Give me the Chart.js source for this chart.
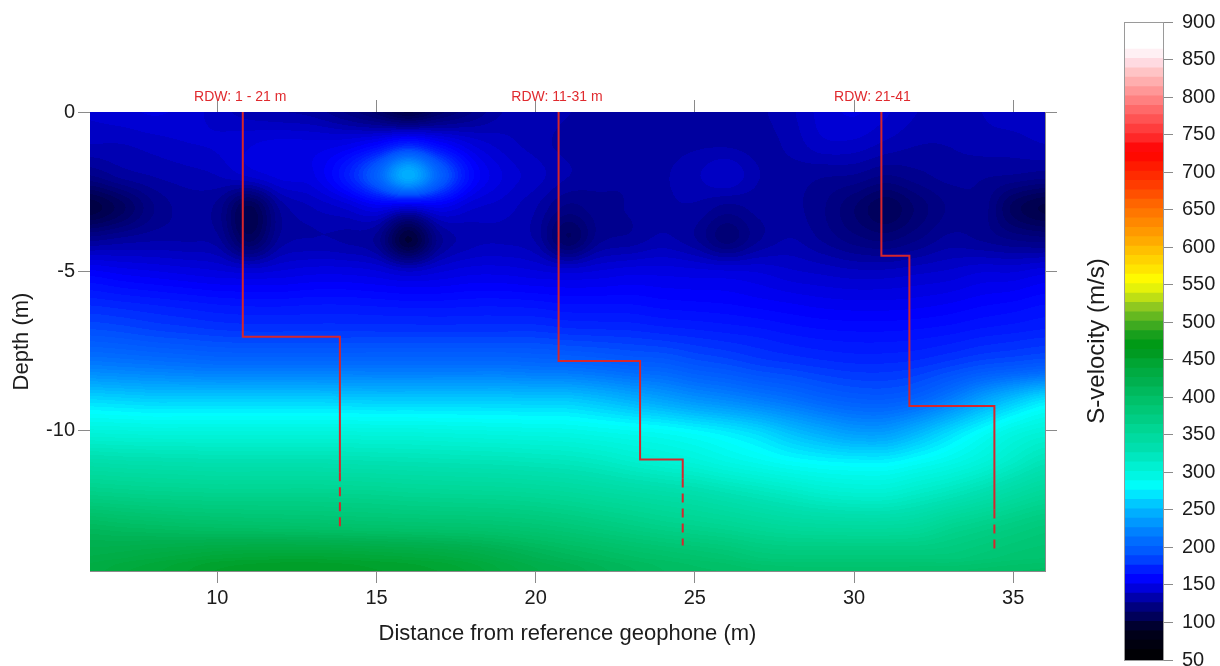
<!DOCTYPE html>
<html><head><meta charset="utf-8">
<script src="https://cdn.jsdelivr.net/npm/chart.js@4.4.1/dist/chart.umd.min.js"></script>
<style>
html,body{margin:0;padding:0;background:#fff;}
#wrap{position:relative;width:1220px;height:666px;overflow:hidden;background:#fff;}
#main{position:absolute;left:0;top:0;}
#cbar{position:absolute;left:1075px;top:0;}
</style></head><body>
<div id="wrap"><canvas id="main" width="1075" height="666"></canvas><canvas id="cbar" width="145" height="690"></canvas></div>
<script>
// ---------------- DATA ----------------
const distanceColumns = [6,7,8,9,10,11,12,13,14,15,16,17,18,19,20,21,22,23,24,25,26,27,28,29,30,31,32,33,34,35,36];
const depthRows = [0,-1,-2,-3,-4,-5,-6,-7,-8,-9,-10,-11,-12,-13,-14,-14.4];
// S-velocity (m/s), one row per depth, one value per distance column
const sVelocity = [
 [140,142,144,142,137,133,131,129,122,112,100,112,122,131,133,131,129,129,129,130,130,130,134,141,144,140,135,133,135,137,137],
 [135,135,137,139,140,143,145,145,147,155,168,155,143,137,133,129,128,128,129,130,130,129,132,138,138,134,131,131,133,133,135],
 [122,128,131,133,135,140,145,147,165,198,245,198,158,143,137,131,128,127,130,134,139,131,129,127,126,122,125,128,127,126,124],
 [ 98,108,122,128,125,104,128,135,140,148,142,148,140,137,131,121,125,127,130,130,125,128,128,123,114,106,115,123,125,108,100],
 [125,128,130,130,128,108,128,131,130,125, 96,125,133,134,130,110,125,128,132,127,116,126,131,126,120,117,122,128,126,122,120],
 [153,150,148,146,144,142,144,146,146,144,139,143,146,146,144,142,144,146,146,145,144,143,140,138,136,136,138,140,143,143,146],
 [172,170,168,166,164,163,163,164,164,163,162,162,163,163,162,160,160,160,158,157,156,154,152,150,149,149,150,152,155,157,160],
 [190,188,185,183,181,180,180,180,180,180,180,180,180,180,180,178,177,176,174,172,170,168,165,163,162,162,163,165,168,170,172],
 [218,216,214,212,210,210,210,210,210,210,210,210,210,210,208,207,204,200,198,192,188,183,180,177,175,175,177,182,188,192,196],
 [262,260,258,258,258,258,258,258,257,256,256,256,256,256,255,255,250,243,236,228,222,215,208,200,195,194,200,215,235,252,266],
 [298,297,296,296,296,296,296,296,296,295,295,294,293,292,291,290,287,284,281,276,270,262,250,240,232,232,245,262,278,292,300],
 [335,333,332,331,330,330,330,330,329,328,327,326,325,324,322,320,316,310,305,300,293,287,281,277,275,275,282,290,300,313,325],
 [368,366,364,363,362,362,362,362,361,360,358,357,356,355,353,350,346,342,338,334,328,322,316,310,307,307,314,322,332,343,352],
 [405,402,400,398,397,396,395,394,393,392,391,390,389,387,384,380,375,370,365,361,357,352,348,346,345,345,348,358,365,372,378],
 [425,428,432,436,440,442,443,443,442,440,438,435,430,423,416,410,405,400,396,392,388,382,380,380,380,380,380,380,384,388,390],
 [430,436,440,445,450,452,453,453,452,450,448,445,440,432,425,420,413,408,403,400,398,395,393,392,392,392,393,394,396,398,400]
];
// Red RDW velocity-profile traces (distance, elevation)
const profile1Solid  = [[10.8,0],[10.8,-7.05],[13.85,-7.05],[13.85,-11.3]];
const profile1Dashed = [[13.85,-11.3],[13.85,-13.02]];
const profile2Solid  = [[20.72,0],[20.72,-7.81],[23.28,-7.81],[23.28,-10.9],[24.62,-10.9],[24.62,-11.5]];
const profile2Dashed = [[24.62,-11.5],[24.62,-13.6]];
const profile3Solid  = [[30.86,0],[30.86,-4.51],[31.74,-4.51],[31.74,-9.22],[34.41,-9.22],[34.41,-12.47]];
const profile3Dashed = [[34.41,-12.47],[34.41,-13.8]];
const profileLabels  = ['RDW: 1 - 21 m','RDW: 11-31 m','RDW: 21-41'];
const profileLabelX  = [10.72, 20.67, 30.58];
// Axis ticks
const xTickValues  = [10,15,20,25,30,35];
const yTickValues  = [0,-5,-10];
const cbTickValues = [50,100,150,200,250,300,350,400,450,500,550,600,650,700,750,800,850,900];
// Colour scale stops (m/s) and colours
const colorStopValues = [50,90,100,125,140,155,170,187,209,227,245,263,278,290,307,329,352,373,396,418,440,458,476,483,500,519,536,553,572,589,607,625,643,660,678,696,713,727,740,758,776,794,811,829,847,856,865,900];
const colorStopHex = ['#000000','#000020','#000048','#000090','#0000d0','#0000ff','#0020ff','#0050ff','#0070ff','#0090ff','#00b0ff','#00d8ff','#00ffff','#00f8e8','#00f0d0','#00e0b0','#00d898','#00cc80','#00c068','#00b050','#00a838','#009a20','#009a10','#20a020','#50b020','#90c820','#d0e810','#ffff00','#ffe000','#ffc800','#ffaa00','#ff9000','#ff7800','#ff6000','#ff4000','#ff2800','#ff1000','#ff0000','#ff2020','#ff4040','#ff6060','#ff8080','#ffa0a0','#ffc0c0','#ffe0e8','#fff0f4','#ffffff','#ffffff'];
const vMin = 50, vMax = 900, barBandStep = 12.5, mapBandStep = 4.25;

// ---------------- helpers ----------------
function hexRgb(h){return [parseInt(h.substr(1,2),16),parseInt(h.substr(3,2),16),parseInt(h.substr(5,2),16)];}
const stopRgb = colorStopHex.map(hexRgb);
function cmap(v){
  if (v<=colorStopValues[0]) return stopRgb[0];
  for (let i=0;i<colorStopValues.length-1;i++){
    const a=colorStopValues[i], b=colorStopValues[i+1];
    if (v<=b){const t=(v-a)/(b-a);const c0=stopRgb[i],c1=stopRgb[i+1];
      return [0,1,2].map(k=>Math.round(c0[k]+(c1[k]-c0[k])*t));}
  }
  return stopRgb[stopRgb.length-1];
}
function makeBands(step){const n=Math.round((vMax-vMin)/step),arr=[];for(let k=0;k<n;k++)arr.push(cmap(vMin+step*(k+0.5)));return arr;}
const mapBands = makeBands(mapBandStep);
const barBands = makeBands(barBandStep);
function bandOf(v){let k=Math.floor((v-vMin)/mapBandStep);return Math.max(0,Math.min(mapBands.length-1,k));}
function findSeg(arr,v){
  const n=arr.length, inc=arr[n-1]>arr[0];
  for (let i=0;i<n-1;i++){const a=arr[i],b=arr[i+1];
    if ((inc&&v<=b)||(!inc&&v>=b)){return [i,Math.max(0,Math.min(1,(v-a)/(b-a)))];}}
  return [n-2,1];
}
// Catmull-Rom weights for the 4 neighbouring nodes
function crW(t){const t2=t*t,t3=t2*t;return [(-t3+2*t2-t)/2,(3*t3-5*t2+2)/2,(-3*t3+4*t2+t)/2,(t3-t2)/2];}
function clampI(i,n){return i<0?0:(i>n-1?n-1:i);}

const FONT = '"Liberation Sans", Arial, sans-serif';
const TXT = '#1c1c1c';
const AXC = '#8a8a8a';
const RED = '#d6262c';

// ---------------- heatmap plugin (uses chart scales) ----------------
const heatmapPlugin = {
  id:'heatmap',
  beforeDatasetsDraw(chart){
    const {ctx, chartArea:a, scales:{x,y}} = chart;
    const L=Math.round(a.left), T=Math.round(a.top);
    const w=Math.round(a.right)-L, h=Math.round(a.bottom)-T;
    const off=document.createElement('canvas'); off.width=w; off.height=h;
    const octx=off.getContext('2d'); const img=octx.createImageData(w,h); const d=img.data;
    const nC=distanceColumns.length, nR=depthRows.length;
    const rowVals=[];
    for(let r=0;r<nR;r++) rowVals.push(new Float32Array(w));
    for(let i=0;i<w;i++){
      const s=findSeg(distanceColumns,x.getValueForPixel(L+i+0.5)), wt=crW(s[1]);
      const idx=[clampI(s[0]-1,nC),s[0],clampI(s[0]+1,nC),clampI(s[0]+2,nC)];
      for(let r=0;r<nR;r++){const row=sVelocity[r];rowVals[r][i]=wt[0]*row[idx[0]]+wt[1]*row[idx[1]]+wt[2]*row[idx[2]]+wt[3]*row[idx[3]];}
    }
    for(let j=0;j<h;j++){
      const s=findSeg(depthRows,y.getValueForPixel(T+j+0.5)), wt=crW(s[1]);
      const R=[rowVals[clampI(s[0]-1,nR)],rowVals[s[0]],rowVals[clampI(s[0]+1,nR)],rowVals[clampI(s[0]+2,nR)]];
      for(let i=0;i<w;i++){
        const v=wt[0]*R[0][i]+wt[1]*R[1][i]+wt[2]*R[2][i]+wt[3]*R[3][i];
        const col=mapBands[bandOf(v)]; const p=(j*w+i)*4;
        d[p]=col[0];d[p+1]=col[1];d[p+2]=col[2];d[p+3]=255;}
    }
    octx.putImageData(img,0,0);
    ctx.save(); ctx.drawImage(off,L,T); ctx.restore();
  },
  afterDatasetsDraw(chart){
    const {ctx, chartArea:a, scales:{x}} = chart;
    ctx.save(); ctx.fillStyle='#e02a2e'; ctx.font='14px '+FONT; ctx.textAlign='center'; ctx.textBaseline='alphabetic';
    profileLabels.forEach((t,i)=>ctx.fillText(t, x.getPixelForValue(profileLabelX[i]), a.top-11));
    ctx.restore();
  }
};

function pts(a){return a.map(p=>({x:p[0],y:p[1]}));}
function lineDs(a,dashed){return {data:pts(a),showLine:true,borderColor:RED,borderWidth:2,pointRadius:0,borderDash:dashed?[9,6]:[],xAxisID:'x',yAxisID:'y',clip:false};}
function fixTicks(vals){return function(s){s.ticks=vals.map(v=>({value:v}));};}

new Chart(document.getElementById('main'),{
  type:'scatter',
  data:{datasets:[lineDs(profile1Solid,false),lineDs(profile1Dashed,true),lineDs(profile2Solid,false),lineDs(profile2Dashed,true),lineDs(profile3Solid,false),lineDs(profile3Dashed,true)]},
  options:{
    responsive:false, animation:false, devicePixelRatio:1,
    layout:{padding:0},
    plugins:{legend:{display:false},tooltip:{enabled:false}},
    scales:{
      x:{type:'linear',position:'bottom',min:6,max:36,afterBuildTicks:fixTicks(xTickValues),
        afterFit(s){s.height=95;},
        grid:{drawOnChartArea:false,drawTicks:true,tickLength:12,color:AXC},
        border:{display:true,color:AXC,width:1},
        ticks:{color:TXT,font:{family:FONT,size:20},padding:3,maxRotation:0},
        title:{display:true,text:'Distance from reference geophone (m)',color:TXT,font:{family:FONT,size:22},padding:{top:0,bottom:19}}},
      x2:{type:'linear',position:'top',min:6,max:36,afterBuildTicks:fixTicks(xTickValues),
        afterFit(s){s.height=112;},
        grid:{drawOnChartArea:false,drawTicks:true,tickLength:12,color:AXC},
        border:{display:true,color:AXC,width:1},
        ticks:{display:false}},
      y:{type:'linear',position:'left',min:-14.4,max:0,afterBuildTicks:fixTicks(yTickValues),
        afterFit(s){s.width=90;},
        grid:{drawOnChartArea:false,drawTicks:true,tickLength:12,color:AXC},
        border:{display:true,color:AXC,width:1},
        ticks:{color:TXT,font:{family:FONT,size:20},padding:3},
        title:{display:true,text:'Depth (m)',color:TXT,font:{family:FONT,size:22},padding:{top:9,bottom:0}}},
      y2:{type:'linear',position:'right',min:-14.4,max:0,afterBuildTicks:fixTicks(yTickValues),
        afterFit(s){s.width=30;},
        grid:{drawOnChartArea:false,drawTicks:true,tickLength:12,color:AXC},
        border:{display:true,color:AXC,width:1},
        ticks:{display:false}}
    }
  },
  plugins:[heatmapPlugin]
});

// ---------------- colour bar ----------------
const cbDatasets=[];
for(let k=0;k<barBands.length;k++){
  const lo=vMin+k*barBandStep, hi=lo+barBandStep, c=barBands[k];
  cbDatasets.push({data:[[lo,Math.min(vMax,hi+1.5)]],backgroundColor:`rgb(${c[0]},${c[1]},${c[2]})`,borderWidth:0,barPercentage:1,categoryPercentage:1,grouped:false,yAxisID:'cb'});
}
const cbFrame={id:'cbFrame',afterDatasetsDraw(chart){const {ctx,chartArea:a}=chart;ctx.save();ctx.strokeStyle='#9a9a9a';ctx.lineWidth=1;
  ctx.strokeRect(Math.round(a.left)+0.5,Math.round(a.top)+0.5,Math.round(a.right-a.left)-1,Math.round(a.bottom-a.top));ctx.restore();}};
new Chart(document.getElementById('cbar'),{
  type:'bar',
  data:{labels:['v'],datasets:cbDatasets},
  options:{
    responsive:false, animation:false, devicePixelRatio:1,
    layout:{padding:{top:22,bottom:30,left:0,right:0}},
    plugins:{legend:{display:false},tooltip:{enabled:false}},
    scales:{
      x:{display:false,stacked:false},
      cbTitle:{type:'linear',position:'left',min:50,max:900,afterFit(s){s.width=49;},
        grid:{display:false,drawTicks:false},border:{display:false},ticks:{display:false},
        title:{display:true,text:'S-velocity (m/s)',color:TXT,font:{family:FONT,size:24},padding:{top:8,bottom:0}}},
      cb:{type:'linear',position:'right',min:50,max:900,afterBuildTicks:fixTicks(cbTickValues),
        afterFit(s){s.width=56;},
        grid:{drawOnChartArea:false,drawTicks:true,tickLength:9,color:AXC},
        border:{display:false},
        ticks:{color:TXT,font:{family:FONT,size:20},padding:9}}
    }
  },
  plugins:[cbFrame]
});
</script>
</body></html>
